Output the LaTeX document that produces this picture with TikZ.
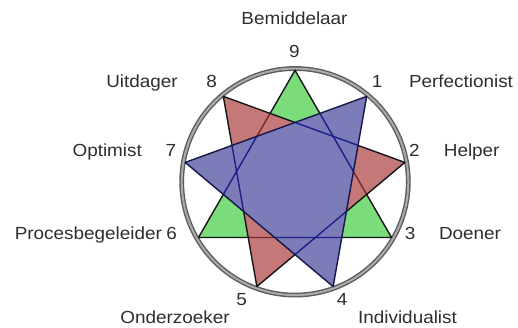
\documentclass[tikz,border=0pt]{standalone}
\usepackage{fontspec}
\setmainfont{Liberation Sans}[FakeStretch=1.08]
\definecolor{gfill}{HTML}{7ADC7A}
\definecolor{rfill}{HTML}{C47878}
\definecolor{bfill}{HTML}{7B7CB8}
\definecolor{edgec}{HTML}{151515}
\definecolor{rline}{HTML}{7A2828}
\definecolor{bline}{HTML}{1E1E8C}
\definecolor{bedge}{HTML}{16164A}
\definecolor{ringdark}{HTML}{5C5C5C}
\definecolor{ringlight}{HTML}{ABABAB}
\definecolor{txt}{HTML}{2E2E2E}
\tikzset{
  edge/.style={line width=1.4pt, draw=edgec, line join=round},
  lbl/.style={anchor=base, inner sep=0pt, text=txt, font=\fontsize{17.5}{20}\selectfont},
}
\begin{document}
\begin{tikzpicture}[x=1pt,y=1pt]
\useasboundingbox (0,0) rectangle (518,328);
\fill[white] (0,0) rectangle (518,328);
\coordinate (c) at (295,146.2);
\foreach \k in {1,...,9} \path (c) ++({90-40*\k}:111.5) coordinate (p\k);
% ring
\draw[ringdark, line width=4.8pt] (c) circle (113.3);
\draw[ringlight, line width=2pt] (c) circle (113.3);
% green triad
\fill[gfill] (p9) -- (p3) -- (p6) -- cycle;
\draw[edge] (p9) -- (p3) -- (p6) -- cycle;
% red triangle
\fill[rfill] (p8) -- (p2) -- (p5) -- cycle;
\begin{scope}
  \clip (p8) -- (p2) -- (p5) -- cycle;
  \draw[edge, draw=rline] (p9) -- (p3) -- (p6) -- cycle;
\end{scope}
\draw[edge] (p8) -- (p2) -- (p5) -- cycle;
% blue triangle
\fill[bfill] (p7) -- (p1) -- (p4) -- cycle;
\begin{scope}
  \clip (p7) -- (p1) -- (p4) -- cycle;
  \draw[edge, draw=bline] (p9) -- (p3) -- (p6) -- cycle;
  \draw[edge, draw=bline] (p8) -- (p2) -- (p5) -- cycle;
\end{scope}
\draw[edge, draw=bedge] (p7) -- (p1) -- (p4) -- cycle;
% numbers
\node[lbl] (n9) at (294.3,270.7) {9};
\node[lbl] (n8) at (211.7,240.5) {8};
\node[lbl] (n1) at (377,240.5) {1};
\node[lbl] (n7) at (171,171.5) {7};
\node[lbl] (n2) at (414.3,171.5) {2};
\node[lbl] (n6) at (171.7,88) {6};
\node[lbl] (n3) at (410,88) {3};
\node[lbl] (n5) at (241.7,22) {5};
\node[lbl] (n4) at (342,22) {4};
% names
\node[lbl] (t9) at (294.5,303) {Bemiddelaar};
\node[lbl] (t8) at (142,240.5) {Uitdager};
\node[lbl] (t1) at (461,240.5) {Perfectionist};
\node[lbl] (t7) at (107.2,171.5) {Optimist};
\node[lbl] (t2) at (471.7,171.5) {Helper};
\node[lbl] (t6) at (88.3,88) {Procesbegeleider};
\node[lbl] (t3) at (470,88) {Doener};
\node[lbl] (t5) at (175,4) {Onderzoeker};
\node[lbl] (t4) at (407.5,4) {Individualist};
\end{tikzpicture}
\end{document}
